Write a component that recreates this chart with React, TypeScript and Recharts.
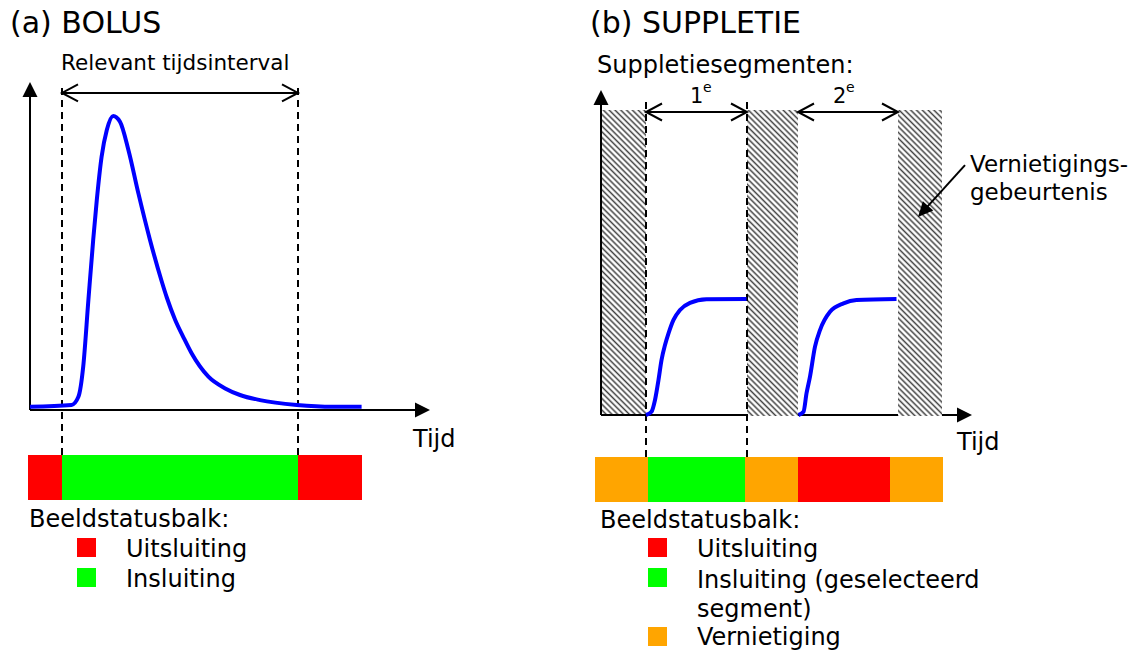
import React from 'react';
import { ComposedChart, Line, XAxis, YAxis, ReferenceArea, ReferenceLine } from 'recharts';

// ---------- Panel (a) BOLUS ----------
const bolusTime = [0, 10.4, 12.1, 13.3, 14.6, 15.8, 16.7, 17.9, 19.2, 20.8, 22.5, 24.6, 27.1, 30, 32.9, 34.2, 36.3, 38.3, 40.4, 44.6, 48.8, 52.5, 57.5, 66.7, 75.8, 82.9];
const bolusSignal = [1.1, 1.7, 4.4, 14.4, 36.7, 56.7, 70, 84.4, 93.3, 98, 96.1, 86.7, 72.2, 56.7, 43, 37.5, 30, 24.4, 18.9, 11.1, 7.2, 5, 3.3, 1.7, 1.1, 1.1];
const relevantInterval = [8, 67];
const bolusStatusEdges = [-0.5, 8, 67, 83];
const bolusStatusKind = ['uit', 'in', 'uit'];

// ---------- Panel (b) SUPPLETIE ----------
const supp1Time = [9, 10.1, 10.8, 11.5, 12.1, 12.8, 13.5, 14.5, 15.8, 17.8, 21.1, 29.1];
const supp1Signal = [0, 1.1, 5, 11.7, 18.3, 23.3, 27.2, 31.7, 35, 37.4, 38.6, 38.7];
const supp2Time = [39.5, 40.5, 41.1, 41.8, 42.8, 43.8, 45.8, 48.5, 51.1, 59.1];
const supp2Signal = [0, 1.1, 7.2, 12.8, 22.8, 28.3, 34.4, 37.2, 38.3, 38.7];
const destructStart = [0, 29.2, 59.4];
const destructEnd = [9, 39.4, 68.2];
const segmentStart = [9, 39.4];
const segmentEnd = [29.2, 59.4];
const segmentLabels = ['1', '2'];
const suppStatusEdges = [-1.2, 9.4, 28.8, 39.4, 57.8, 68.4];
const suppStatusKind = ['vern', 'in', 'vern', 'uit', 'vern'];

const statusColor: Record<string, string> = { uit: '#ff0000', in: '#00ff00', vern: '#ffa500' };

const toPoints = (ts: number[], ss: number[]) => ts.map((t, i) => ({ t, s: ss[i] }));
const bolusData = toPoints(bolusTime, bolusSignal);
const supp1Data = toPoints(supp1Time, supp1Signal);
const supp2Data = toPoints(supp2Time, supp2Signal);

type Head = 'none' | 'filled' | 'open';
const makeArrow = (start: Head, end: Head, len: number, half: number, sw: number) => (p: any) => {
  const { x1, y1, x2, y2 } = p;
  const dx = x2 - x1, dy = y2 - y1;
  const d = Math.hypot(dx, dy) || 1;
  const ux = dx / d, uy = dy / d;
  const nx = -uy, ny = ux;
  const head = (tx: number, ty: number, sx: number, sy: number, kind: Head, key: string) => {
    const bx = tx - sx * len, by = ty - sy * len;
    const pts = `${bx + nx * half},${by + ny * half} ${tx},${ty} ${bx - nx * half},${by - ny * half}`;
    return kind === 'filled'
      ? <polygon key={key} points={pts} fill="#000" />
      : <polyline key={key} points={pts} fill="none" stroke="#000" strokeWidth={sw} />;
  };
  const sx1 = start === 'filled' ? x1 + ux * len * 0.8 : x1;
  const sy1 = start === 'filled' ? y1 + uy * len * 0.8 : y1;
  const sx2 = end === 'filled' ? x2 - ux * len * 0.8 : x2;
  const sy2 = end === 'filled' ? y2 - uy * len * 0.8 : y2;
  return (
    <g>
      <line x1={sx1} y1={sy1} x2={sx2} y2={sy2} stroke="#000" strokeWidth={sw} />
      {start !== 'none' && head(x1, y1, -ux, -uy, start, 's')}
      {end !== 'none' && head(x2, y2, ux, uy, end, 'e')}
    </g>
  );
};

const axisArrow = makeArrow('none', 'filled', 15, 7.5, 2);
const plainLine = makeArrow('none', 'none', 0, 0, 2);
const doubleArrow = makeArrow('open', 'open', 16, 8.5, 2);
const pointerArrow = makeArrow('none', 'filled', 15, 7, 2);

const FONT = '"DejaVu Sans", Verdana, sans-serif';

const BolusChart = () => (
  <div style={{ position: 'absolute', left: 0, top: 0 }}>
    <ComposedChart width={480} height={655} margin={{ left: 28, right: 50, top: 80, bottom: 155 }}>
      <XAxis hide type="number" dataKey="t" domain={[-0.5, 100]} allowDataOverflow />
      <YAxis hide type="number" domain={[-30, 110]} allowDataOverflow />
      {bolusStatusKind.map((k, i) => (
        <ReferenceArea key={'bs' + i} x1={bolusStatusEdges[i]} x2={bolusStatusEdges[i + 1]} y1={-30} y2={-15}
          fill={statusColor[k]} fillOpacity={1} stroke="none" ifOverflow="visible" />
      ))}
      {relevantInterval.map((t, i) => (
        <ReferenceLine key={'rd' + i} segment={[{ x: t, y: -15 }, { x: t, y: 109 }]} stroke="#000" strokeWidth={2}
          strokeDasharray="7 5" ifOverflow="visible" />
      ))}
      <ReferenceLine segment={[{ x: relevantInterval[0], y: 105.7 }, { x: relevantInterval[1], y: 105.7 }]}
        shape={doubleArrow} ifOverflow="visible" />
      <ReferenceLine segment={[{ x: 0, y: 0 }, { x: 0, y: 109.3 }]} shape={axisArrow} ifOverflow="visible" />
      <ReferenceLine segment={[{ x: 0, y: 0 }, { x: 100, y: 0 }]} shape={axisArrow} ifOverflow="visible" />
      <Line data={bolusData} dataKey="s" type="monotone" dot={false} stroke="#0000ff" strokeWidth={4}
        isAnimationActive={false} />
    </ComposedChart>
  </div>
);

const SuppChart = () => (
  <div style={{ position: 'absolute', left: 560, top: 0 }}>
    <ComposedChart width={585} height={655} margin={{ left: 35, right: 173, top: 88, bottom: 153 }}>
      <XAxis hide type="number" dataKey="t" domain={[-1.2, 74.2]} allowDataOverflow />
      <YAxis hide type="number" domain={[-29, 109]} allowDataOverflow />
      {suppStatusKind.map((k, i) => (
        <ReferenceArea key={'ss' + i} x1={suppStatusEdges[i]} x2={suppStatusEdges[i + 1]} y1={-29} y2={-14}
          fill={statusColor[k]} fillOpacity={1} stroke="none" ifOverflow="visible" />
      ))}
      {destructStart.map((t, i) => (
        <ReferenceArea key={'hd' + i} x1={t} x2={destructEnd[i]} y1={-0.3} y2={101.7}
          fill="url(#hatch)" fillOpacity={1} stroke="none" ifOverflow="visible" />
      ))}
      {[segmentStart[0], segmentEnd[0]].map((t, i) => (
        <ReferenceLine key={'sd' + i} segment={[{ x: t, y: -14 }, { x: t, y: 106 }]} stroke="#000" strokeWidth={2}
          strokeDasharray="7 5" ifOverflow="visible" />
      ))}
      {segmentStart.map((t, i) => (
        <ReferenceLine key={'sa' + i} segment={[{ x: t, y: 101 }, { x: segmentEnd[i], y: 101 }]}
          shape={doubleArrow} ifOverflow="visible" />
      ))}
      <ReferenceLine segment={[{ x: 0, y: 0 }, { x: 0, y: 108.3 }]} shape={axisArrow} ifOverflow="visible" />
      <ReferenceLine segment={[{ x: 0, y: 0 }, { x: destructStart[1], y: 0 }]} shape={plainLine} ifOverflow="visible" />
      <ReferenceLine segment={[{ x: destructEnd[1], y: 0 }, { x: destructStart[2], y: 0 }]} shape={plainLine} ifOverflow="visible" />
      <ReferenceLine segment={[{ x: destructEnd[2], y: 0 }, { x: 74.2, y: 0 }]} shape={axisArrow} ifOverflow="visible" />
      <ReferenceLine segment={[{ x: 72.8, y: 83.3 }, { x: 63.4, y: 66 }]} shape={pointerArrow} ifOverflow="visible" />
      <Line data={supp1Data} dataKey="s" type="monotone" dot={false} stroke="#0000ff" strokeWidth={4}
        isAnimationActive={false} />
      <Line data={supp2Data} dataKey="s" type="monotone" dot={false} stroke="#0000ff" strokeWidth={4}
        isAnimationActive={false} />
    </ComposedChart>
  </div>
);

const T = (p: { x: number; y: number; s?: number; children: React.ReactNode }) => (
  <text x={p.x} y={p.y} fontSize={p.s ?? 24} fontFamily={FONT} fill="#000">{p.children}</text>
);

const Overlay = () => (
  <svg width={1145} height={655} style={{ position: 'absolute', left: 0, top: 0, pointerEvents: 'none' }}>
    <defs>
      <pattern id="hatch" patternUnits="userSpaceOnUse" width={4.1} height={4.1} patternTransform="rotate(-45)">
        <rect width={4.1} height={4.1} fill="#fff" />
        <line x1={2.05} y1={-1} x2={2.05} y2={5.1} stroke="#404040" strokeWidth={1.5} />
      </pattern>
    </defs>
    <T x={10} y={33} s={30}>(a) BOLUS</T>
    <T x={590} y={33} s={30}>(b) SUPPLETIE</T>
    <T x={61} y={70} s={21.5}>Relevant tijdsinterval</T>
    <T x={597} y={73}>Suppletiesegmenten:</T>
    {segmentLabels.map((l, i) => (
      <g key={l}>
        <T x={[690, 833][i]} y={103} s={21}>{l}</T>
        <T x={[703, 846][i]} y={92} s={14}>e</T>
      </g>
    ))}
    <T x={970} y={172} s={23}>Vernietigings-</T>
    <T x={970} y={200} s={23}>gebeurtenis</T>
    <T x={413} y={447}>Tijd</T>
    <T x={957} y={450}>Tijd</T>

    <T x={29} y={527}>Beeldstatusbalk:</T>
    <rect x={77} y={538} width={19} height={19} fill={statusColor.uit} />
    <T x={126} y={557}>Uitsluiting</T>
    <rect x={77} y={568} width={19} height={19} fill={statusColor.in} />
    <T x={126} y={587}>Insluiting</T>

    <T x={600} y={528}>Beeldstatusbalk:</T>
    <rect x={648} y={538} width={19} height={19} fill={statusColor.uit} />
    <T x={697} y={557}>Uitsluiting</T>
    <rect x={648} y={568} width={19} height={19} fill={statusColor.in} />
    <T x={697} y={588}>Insluiting (geselecteerd</T>
    <T x={697} y={617}>segment)</T>
    <rect x={648} y={627} width={19} height={19} fill={statusColor.vern} />
    <T x={697} y={645}>Vernietiging</T>
  </svg>
);

export default function App() {
  return (
    <div style={{ position: 'absolute', left: 0, top: 0, width: 1145, height: 655, background: '#fff' }}>
      <BolusChart />
      <SuppChart />
      <Overlay />
    </div>
  );
}
